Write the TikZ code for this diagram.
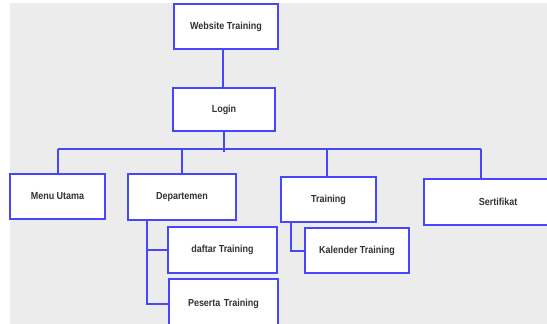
\documentclass[tikz,border=0pt]{standalone}
\usepackage{fontspec}
\setmainfont[FakeStretch=0.88]{Liberation Sans}
\definecolor{lineblue}{RGB}{70,70,250}
\definecolor{bggray}{RGB}{236,236,236}
\definecolor{txt}{RGB}{50,50,50}
\begin{document}
\begin{tikzpicture}[x=1pt,y=-1pt,
  box/.style={draw=lineblue,line width=1.8pt,fill=white,inner sep=0pt,
    font=\fontsize{10.2}{11}\selectfont\bfseries,text=txt},
  conn/.style={draw=lineblue,line width=2pt}]
\useasboundingbox (0,0) rectangle (547,324);
\fill[white] (0,0) rectangle (547,324);
\fill[bggray] (10,3) rectangle (547,324);
% boxes by corners
\newcommand{\mybox}[6]{%
  \node[box,minimum width={(#4-#2)*1pt},minimum height={(#5-#3)*1pt}] (#1) at ({(#2+#4)/2},{(#3+#5)/2}) {#6};}
\mybox{web}{174}{4}{278}{49}{Website Training}
\mybox{login}{173}{88}{275}{131}{Login}
\mybox{menu}{10}{174}{105}{219}{Menu Utama}
\mybox{dep}{128}{174}{236}{220}{Departemen}
\mybox{train}{281}{177}{376}{222}{Training}
\node[box,minimum width=126pt,minimum height=46pt,anchor=north west,text width=124pt,align=left] (sert) at (423,178) {\hspace*{54pt}Sertifikat};
\mybox{daftar}{168}{227}{277}{273}{daftar Training}
\node[box,minimum width=109pt,minimum height=50pt,anchor=north west,text width=107pt,align=center] (pes) at (168,278) {\raisebox{-2pt}{Peserta Training}};
\mybox{kal}{305}{228}{409}{273}{Kalender Training}
% connectors
\coordinate (busL) at (58,149);
\coordinate (busR) at (481,149);
\coordinate (dv) at (147,0);
\coordinate (tv) at (291,0);
\coordinate (wv) at (223,0);
\coordinate (lv) at (224,0);
\coordinate (tdv) at (327,0);
\draw[conn] (wv |- web.south) -- (wv |- login.north);
\draw[conn] (lv |- login.south) -- ++(0,20);
\draw[conn] (busL) -- (busR);
\draw[conn] (busL) -- (busL |- menu.north);
\draw[conn] (dep.north |- busL) -- (dep.north);
\draw[conn] (tdv |- busL) -- (tdv |- train.north);
\draw[conn] (busR) -- (busR |- sert.north);
\draw[conn] (dv |- dep.south) -- (dv |- pes.west) -- (pes.west);
\draw[conn] (dv |- daftar.west) -- (daftar.west);
\draw[conn] (tv |- train.south) -- (tv |- kal.west) -- (kal.west);
\end{tikzpicture}
\end{document}
